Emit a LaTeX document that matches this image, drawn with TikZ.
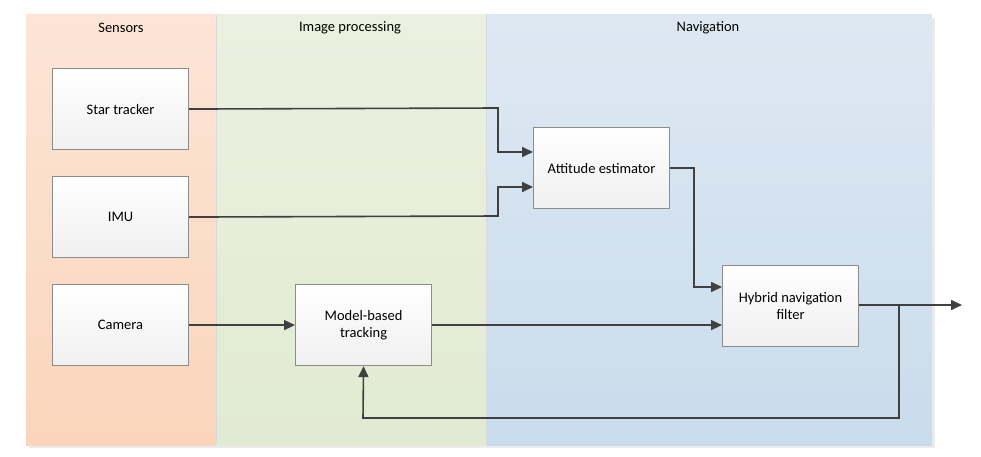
\documentclass[tikz,border=0pt]{standalone}
\usepackage{fontspec}
\setmainfont{Carlito}
\usetikzlibrary{arrows.meta}
\definecolor{lineC}{HTML}{404040}
\definecolor{boxB}{HTML}{8C8C8C}
\begin{document}
\begin{tikzpicture}[x=1pt,y=-1pt,
  blk/.style={draw=boxB,line width=1.1pt,top color=white,bottom color=black!6,minimum width=136pt,minimum height=81pt,inner sep=0pt,align=center,font=\fontsize{14.5}{17}\selectfont,text=black,anchor=north west},
  conn/.style={draw=lineC,line width=1.6pt,-{Triangle[length=11pt,width=10pt]}},
  ttl/.style={font=\fontsize{14.5}{17}\selectfont,text=black}]
\useasboundingbox (0,0) rectangle (981,457);
\fill[white] (0,0) rectangle (981,457);
% shadow
\fill[black!8] (29,18) rectangle (935,448);
% panels
\shade[top color={rgb,255:red,252;green,229;blue,214},bottom color={rgb,255:red,250;green,213;blue,187}] (26,15) rectangle (216,445);
\shade[top color={rgb,255:red,235;green,241;blue,224},bottom color={rgb,255:red,225;green,234;blue,210}] (216,15) rectangle (486,445);
\shade[top color={rgb,255:red,222;green,232;blue,243},bottom color={rgb,255:red,201;green,220;blue,236}] (486,15) rectangle (932,445);
\draw[white!85!black,line width=0.6pt] (216,15) -- (216,445);
\draw[white!85!black,line width=0.6pt] (486,15) -- (486,445);
\node[ttl] (tS) at (121,28) {Sensors};
\node[ttl] (tI) at (350,28) {Image processing};
\node[ttl] (tN) at (708,28) {Navigation};
% blocks
\node[blk] (star) at (52,68) {Star tracker};
\node[blk] (imu) at (52,176) {IMU};
\node[blk] (cam) at (52,284) {Camera};
\node[blk] (mbt) at (295,284) {Model-based\\tracking};
\node[blk] (att) at (533,127) {Attitude estimator};
\node[blk] (hyb) at (722,265) {Hybrid navigation\\filter};
\coordinate (out) at (962,305);
% connectors
\draw[conn] (star.east) -- (498,108) -- (498,152) -- (att.west |- 0,152);
\draw[conn] (imu.east) -- (498,216) -- (498,187) -- (att.west |- 0,187);
\draw[conn] (att.east) -- (694,168) -- (694,287) -- (hyb.west |- 0,287);
\draw[conn] (cam.east) -- (mbt.west);
\draw[conn] (mbt.east) -- (hyb.west |- mbt.east);
\draw[conn] (hyb.east |- out) -- (out);
\draw[conn] (899,305) -- (899,418) -- (363,418) -- (mbt.south);
\end{tikzpicture}
\end{document}
